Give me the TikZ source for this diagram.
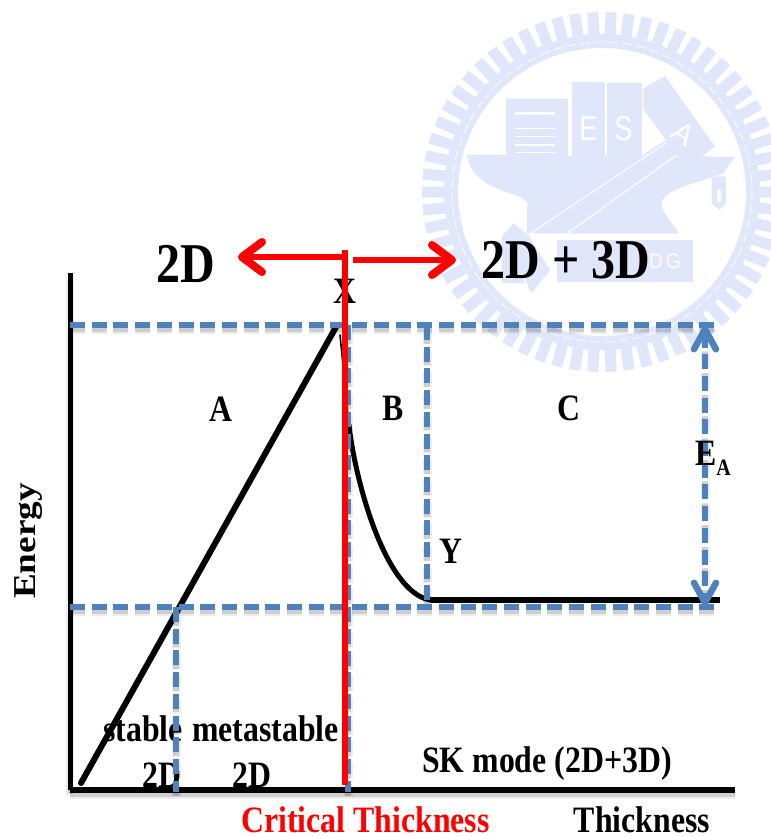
\documentclass[tikz,border=0pt]{standalone}
\usepackage{fontspec}
\usepackage{graphicx}
\usepackage{xcolor}
\usepackage{tikz}
\usetikzlibrary{arrows.meta, calc}
\setmainfont{Liberation Serif}
\newfontfamily\sealfont{Liberation Sans}
\definecolor{sealblue}{HTML}{E1E7FA}
\definecolor{guideblue}{HTML}{4F81BD}
\definecolor{critred}{HTML}{FF0000}
\newcommand{\tall}[1]{\scalebox{1}[1.17]{#1}}

\begin{document}
\begin{tikzpicture}[
    x=1pt, y=-1pt,
    big/.style={font=\fontsize{48}{48}\selectfont\bfseries, inner sep=0pt, anchor=base},
    lbl/.style={font=\fontsize{31.8}{32}\selectfont\bfseries, inner sep=0pt, anchor=base},
    sealtxt/.style={font=\sealfont\fontsize{30}{30}\selectfont, text=white, inner sep=0pt},
    shadeA/.style={draw=black, opacity=.07, line width=#1+3pt, transform canvas={yshift=-4pt}},
    shadeB/.style={draw=black, opacity=.13, line width=#1, transform canvas={yshift=-3.5pt}},
    guidedash/.style={dash pattern=on 15pt off 6.7pt},
    axis/.style={draw=black, line width=#1},
    guide/.style={draw=guideblue, line width=6.5pt, guidedash},
    curve/.style={draw=black, line width=#1, line cap=round},
    redline/.style={draw=critred, line width=6pt},
    redarrow/.style={redline, -{Straight Barb[length=20pt, width=30pt, line width=8pt, round]}},
    eatip/.tip={Straight Barb[length=20pt, width=22pt, line width=6.5pt, round]}
]
\useasboundingbox (0,0) rectangle (771,836);
\fill[white] (0,0) rectangle (771,836);

% watermark
\begin{scope}
\clip (0,0) rectangle (771,836);
\begin{scope}[shift={(602,192)}]
\foreach \i in {1,...,62}
    \draw[sealblue, line width=11pt] ({5.8065*\i}:156) -- ({5.8065*\i}:180);
\draw[sealblue, line width=14pt] (0,0) circle[radius=151];
\draw[white, line width=.8pt, dash pattern=on 9pt off 5pt] (0,0) circle[radius=150];
\end{scope}
\begin{scope}[shift={(410,0)}, x=.3333pt, y=-.3333pt]
% anvil
\fill[sealblue] (170,465) -- (975,470) -- (940,520) -- (905,532) .. controls (840,555) and (760,570) .. (755,610)
    .. controls (755,640) and (790,670) .. (807,700) -- (350,700) -- (352,610)
    .. controls (345,575) and (190,580) .. (170,465) -- cycle;
\fill[sealblue] (905,530) -- (948,530) -- (948,610) -- (928,630) -- (905,610) -- cycle;
\fill[white] (922,570) rectangle (932,605);
% books
\fill[sealblue] (287,298) rectangle (475,468);
\fill[sealblue] (485,245) rectangle (585,468);
\fill[sealblue] (592,250) rectangle (695,468);
\fill[white] (475,320) rectangle (485,462);
\fill[sealblue] (700,265) -- (765,228) -- (915,440) -- (875,470) -- (700,470) -- cycle;
\fill[white] (697,325) -- (768,420) -- (697,465) -- cycle;
\foreach \yy/\lw in {340/3.3, 385/1.6, 410/1.6, 435/1.6, 458/1.6}
    \draw[white, line width=\lw pt] (315,\yy) -- (435,\yy);
\node[sealtxt] (sealE) at (535,385) {\scalebox{.9}[1.15]{E}};
\node[sealtxt] (sealS) at (640,385) {\scalebox{.9}[1.15]{S}};
\node[sealtxt, rotate=-35] (sealA) at (822,402) {A};
% hammer
\fill[sealblue] (310,670) -- (355,705) -- (420,810) -- (365,880) -- (335,815) -- (345,850) -- (275,850) -- (275,710) -- cycle;
\fill[sealblue] (440,720) rectangle (850,845);
\draw[white, line width=1pt] (362,700) -- (770,428);
\draw[white, line width=1.2pt, line cap=round] (472,700) -- (800,465);
\node[sealtxt, font=\sealfont\fontsize{19}{19}\selectfont] (sealDG) at (765,785) {\scalebox{1}[1.1]{D\,G}};
\end{scope}
\end{scope}

% points on the plot
\coordinate (ytop) at (70,273);
\coordinate (origin) at (70,790);
\coordinate (xend) at (735,790);
\coordinate (hiL) at (70,325);
\coordinate (hiR) at (718,325);
\coordinate (loL) at (70,607);
\coordinate (loR) at (718,607);
\coordinate (stab1) at (176,607);
\coordinate (stab0) at (176,792);
\coordinate (crit1) at (348,325);
\coordinate (crit0) at (348,792);
\coordinate (yy1) at (427,325);
\coordinate (yy0) at (427,607);
\coordinate (eaTop) at (705,326);
\coordinate (eaBot) at (705,606);
\coordinate (riseS) at (81,783);
\coordinate (riseE) at (336,327);
\coordinate (peak) at (340,335);
\coordinate (fallS) at (349,425);
\coordinate (fallE) at (430,600);
\coordinate (flatE) at (720,600);
\coordinate (redTop) at (345,250);
\coordinate (redBot) at (345,785);
\coordinate (arrL0) at (345,257);
\coordinate (arrL1) at (238,257);
\coordinate (arrR0) at (353,260);
\coordinate (arrR1) at (456,260);

% labels
\node[big] (lbl2d) at (186,282) {\tall{2D}};
\node[big] (lbl2d3d) at (566,278) {\tall{2D + 3D}};
\node[lbl] (lblX) at (345,303) {\tall{X}};
\node[lbl] (lblA) at (221,421) {\tall{A}};
\node[lbl] (lblB) at (393,420) {\tall{B}};
\node[lbl] (lblC) at (569,420) {\tall{C}};
\node[lbl] (lblY) at (451,563) {\tall{Y}};
\node[lbl, rotate=90] (lblEnergy) at (35,541) {\scalebox{1.17}[1]{Energy}};
\node[lbl] (lblStable) at (143,741) {\tall{stable}};
\node[lbl] (lblMeta) at (265.5,741) {\tall{metastable}};
\node[lbl] (lblS2d) at (162,787) {\tall{2D}};
\node[lbl] (lblM2d) at (252,787) {\tall{2D}};
\node[lbl] (lblSK) at (547,772) {\tall{SK mode (2D+3D)}};
\node[lbl, text=critred] (lblCrit) at (365.5,832) {\tall{Critical Thickness}};
\node[lbl] (lblThick) at (642,832) {\tall{Thickness}};

% soft shadows
\foreach \a/\b/\w in {ytop/origin/5pt, origin/xend/6pt}{
    \draw[shadeA=\w] (\a) -- (\b);
    \draw[shadeB=\w] (\a) -- (\b);
}
\foreach \a/\b in {hiL/hiR, loL/loR, stab1/stab0, crit1/crit0, yy1/yy0, eaTop/eaBot}{
    \draw[shadeA=6pt, guidedash] (\a) -- (\b);
    \draw[shadeB=6pt, guidedash] (\a) -- (\b);
}

% axes and curve
\draw[axis=5pt] (ytop) -- (origin);
\draw[axis=6pt] (origin) -- (xend);
\draw[curve=6pt] (riseS) -- (riseE);
\draw[curve=1.6pt] (peak) -- (fallS);
\draw[curve=5pt] (fallS) .. controls (355,480) and (385,592) .. (fallE);
\draw[curve=6.5pt, line cap=butt] (fallE) -- (flatE);

% guides
\draw[guide] (hiL) -- (hiR);
\draw[guide] (loL) -- (loR);
\draw[guide] (stab1) -- (stab0);
\draw[guide] (crit1) -- (crit0);
\draw[guide] (yy1) -- (yy0);
\draw[guide, line width=5.5pt, eatip-eatip] (eaTop) -- (eaBot);

% red marks
\draw[redline] (redTop) -- (redBot);
\draw[redarrow] (arrL0) -- (arrL1);
\draw[redarrow] (arrR0) -- (arrR1);

\node[lbl, anchor=base west] (lblEa) at (695,465) {\tall{E}\raisebox{-10pt}{\fontsize{20}{20}\selectfont\tall{A}}};
\end{tikzpicture}
\end{document}
